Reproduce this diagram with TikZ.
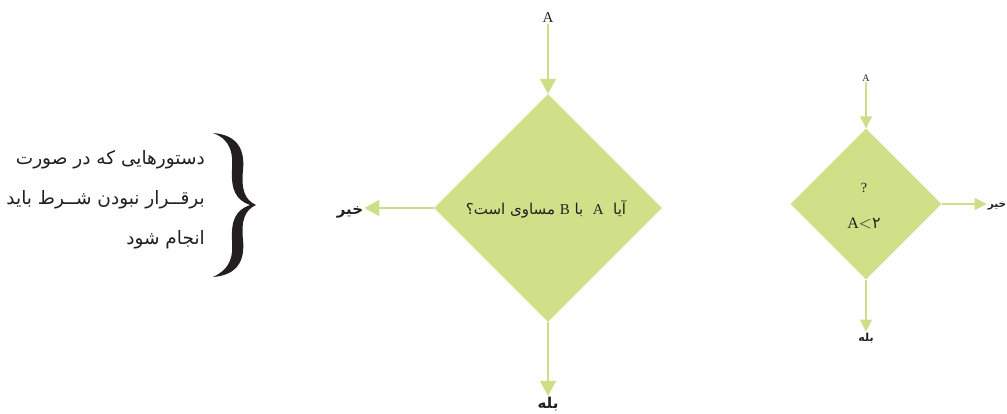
\documentclass[tikz,border=0pt]{standalone}
\usepackage{fontspec}
\usetikzlibrary{shapes.geometric,arrows.meta}
\TeXXeTstate=1
\newfontfamily\arabicfont[Script=Arabic]{DejaVu Sans}
\setmainfont{Liberation Serif}
\definecolor{dfill}{RGB}{208,224,136}
\definecolor{arr}{RGB}{203,223,135}
\definecolor{ink}{RGB}{35,31,32}
\tikzset{
  dia/.style={diamond,aspect=1,fill=dfill,inner sep=0pt,draw=none},
  flow/.style={draw=arr,line width=1.8pt,-{Triangle[length=15pt,width=16pt]}},
  sflow/.style={draw=arr,line width=1.3pt,-{Triangle[length=12pt,width=12pt]}},
  lbl/.style={inner sep=1pt,text=ink},
}
\begin{document}
\begin{tikzpicture}[x=1pt,y=1pt]
\useasboundingbox (0,0) rectangle (1007,-414);
% big flow
\node[dia,minimum size=228pt] (bigd) at (548,-208) {};
\node[lbl,font=\fontsize{15}{18}\selectfont] (bigt) at (546,-209) {\arabicfont\beginR آیا \ \textrm{A} \ با \textrm{B} مساوی است؟\endR};
\node[lbl,font=\fontsize{15}{18}\selectfont] (a1) at (548,-18) {A};
\node[lbl,font=\fontsize{15}{18}\selectfont] (no1) at (350,-212) {\arabicfont\bfseries\beginR خیر\endR};
\node[lbl,font=\fontsize{15}{18}\selectfont] (yes1) at (548,-404) {\arabicfont\bfseries\beginR بله\endR};
\coordinate (no1end) at (bigd.west -| no1.east);
\draw[flow] (a1.south) -- (bigd.north);
\draw[flow] (bigd.west) -- (no1end);
\draw[flow] (bigd.south) -- (yes1.north);
% small flow
\node[dia,minimum size=151pt] (smd) at (866,-204) {};
\node[lbl,font=\fontsize{14}{16}\selectfont] (q) at (864,-188) {?};
\node[lbl,font=\fontsize{16}{18}\selectfont] (cond) at (864,-223) {A$<${\arabicfont ۲}};
\node[lbl,font=\fontsize{10}{12}\selectfont] (a2) at (866,-78) {A};
\node[lbl,font=\fontsize{10.5}{12}\selectfont] (no2) at (997,-206) {\arabicfont\bfseries\beginR خیر\endR};
\node[lbl,font=\fontsize{11}{13}\selectfont] (yes2) at (866,-338) {\arabicfont\bfseries\beginR بله\endR};
\coordinate (no2end) at (smd.east -| no2.west);
\draw[sflow] (a2.south) -- (smd.north);
\draw[sflow] (smd.east) -- (no2end);
\draw[sflow] (smd.south) -- (yes2.north);
% brace
\fill[ink] (213,-133) .. controls (238,-135) and (245,-150) .. (243,-170)
  .. controls (241,-190) and (245,-200) .. (256,-205)
  .. controls (245,-210) and (241,-220) .. (243,-240)
  .. controls (245,-260) and (238,-275) .. (213,-277)
  .. controls (232,-268) and (233,-255) .. (232,-240)
  .. controls (231,-220) and (236,-210) .. (250,-205)
  .. controls (236,-200) and (231,-190) .. (232,-170)
  .. controls (233,-155) and (232,-140) .. (213,-133) -- cycle;
% text
\node[lbl,anchor=east,font=\fontsize{18.5}{22}\selectfont] (t1) at (206,-160) {\arabicfont\beginR دستورهایی که در صورت\endR};
\node[lbl,anchor=east,font=\fontsize{18.5}{22}\selectfont] (t2) at (206,-200) {\arabicfont\beginR برقــرار نبودن شــرط باید\endR};
\node[lbl,anchor=east,font=\fontsize{18.5}{22}\selectfont] (t3) at (206,-240) {\arabicfont\beginR انجام شود\endR};
\end{tikzpicture}
\end{document}
